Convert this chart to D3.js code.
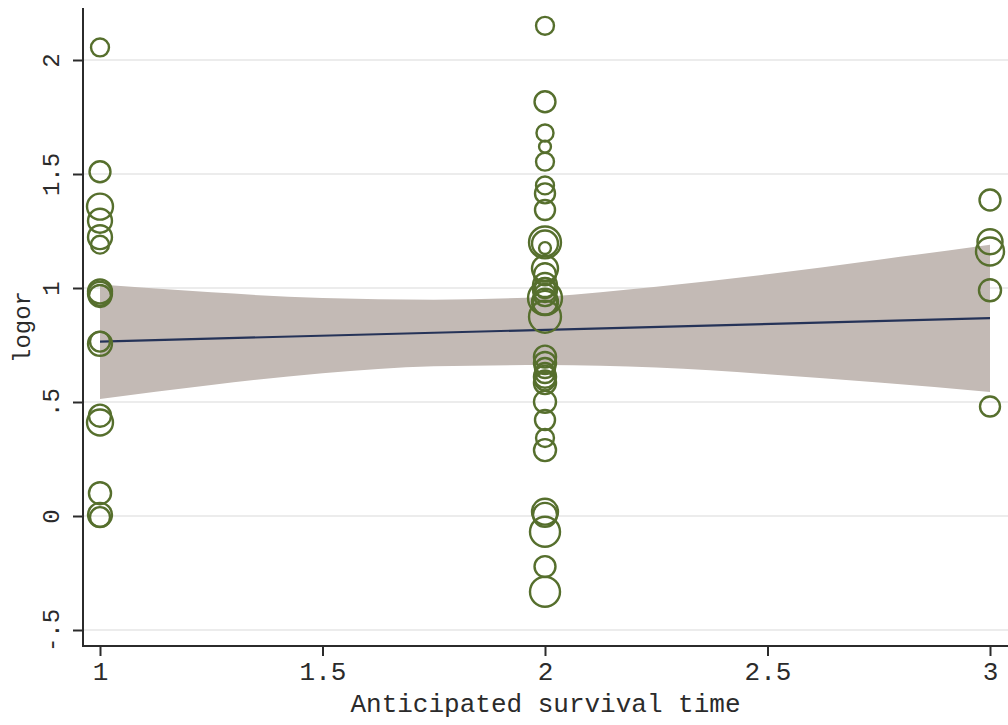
<!DOCTYPE html>
<html>
<head>
<meta charset="utf-8">
<script src="https://cdn.jsdelivr.net/npm/d3@7"></script>
<style>
  html, body { margin: 0; padding: 0; background: #ffffff; }
  svg { display: block; }
</style>
</head>
<body>
<svg id="chart" width="1008" height="725"></svg>
<script>
// Study-level log odds ratios by anticipated survival time (bubble size = weight)
const logorT1 = [2.055, 1.51, 1.357, 1.295, 1.223, 1.19, 0.985, 0.975, 0.965, 0.765, 0.755, 0.44, 0.41, 0.10, 0.005, -0.005];
const weightT1 = [41, 56, 86, 73, 73, 41, 73, 73, 62, 51, 73, 62, 86, 62, 73, 51];

const logorT2 = [
  2.15, 1.817, 1.68, 1.62, 1.554, 1.45, 1.415, 1.342, 1.20, 1.195, 1.175, 1.085, 1.06, 1.013, 1.0, 0.991, 0.969,
  0.956, 0.94, 0.935, 0.874, 0.699, 0.671, 0.649, 0.627, 0.611, 0.595, 0.583, 0.501, 0.421, 0.342, 0.289,
  0.019, 0.005, -0.069, -0.222, -0.332
];
const weightT2 = [
  41, 56, 37, 18, 41, 41, 51, 51, 130, 86, 18, 86, 62, 73, 51, 73, 62,
  147, 86, 73, 130, 62, 62, 51, 51, 62, 51, 62, 62, 51, 41, 62,
  86, 73, 115, 56, 115
];

const logorT3 = [1.386, 1.203, 1.16, 0.99, 0.48];
const weightT3 = [56, 80, 100, 62, 51];

// Fitted line and 95% confidence band read at evenly spaced survival times
const fitX = [1, 3];
const fitY = [0.765, 0.868];
const bandX = [1, 1.25, 1.5, 1.75, 2, 2.25, 2.5, 2.75, 3];
const bandUpper = [1.015, 0.981, 0.956, 0.949, 0.962, 1.005, 1.060, 1.124, 1.190];
const bandLower = [0.513, 0.575, 0.626, 0.657, 0.662, 0.651, 0.622, 0.585, 0.544];

const xTicks = [1, 1.5, 2, 2.5, 3];
const yTicks = [-0.5, 0, 0.5, 1, 1.5, 2];
const xTitle = "Anticipated survival time";
const yTitle = "logor";

const svg = d3.select("#chart");
const plotLeft = 83, plotRight = 1008, plotTop = 8, plotBottom = 646;

const x = d3.scaleLinear().domain([1, 3]).range([100, 990]);
const y = d3.scaleLinear().domain([0, 2]).range([516, 60]);
const r = d3.scaleSqrt().domain([0, 100]).range([0, 14]);

const fmt = v => (v === 0 ? "0" : String(v).replace(/^(-?)0\./, "$1."));
const mono = "'Liberation Mono', 'DejaVu Sans Mono', monospace";
const ink = "#2b2b2b";

// horizontal grid lines
svg.append("g")
  .selectAll("line")
  .data(yTicks)
  .join("line")
  .attr("x1", plotLeft + 1).attr("x2", plotRight)
  .attr("y1", d => y(d)).attr("y2", d => y(d))
  .attr("stroke", "#ececec")
  .attr("stroke-width", 2);

// confidence band
const band = bandX.map((bx, i) => ({ x: bx, lo: bandLower[i], hi: bandUpper[i] }));
svg.append("path")
  .datum(band)
  .attr("d", d3.area()
    .x(d => x(d.x))
    .y0(d => y(d.lo))
    .y1(d => y(d.hi))
    .curve(d3.curveMonotoneX))
  .attr("fill", "#c3bab5");

// fitted line
svg.append("path")
  .datum(fitX.map((fx, i) => [fx, fitY[i]]))
  .attr("d", d3.line().x(d => x(d[0])).y(d => y(d[1])))
  .attr("fill", "none")
  .attr("stroke", "#253358")
  .attr("stroke-width", 2.2);

// weighted study markers
const groups = [
  { t: 1, v: logorT1, w: weightT1 },
  { t: 2, v: logorT2, w: weightT2 },
  { t: 3, v: logorT3, w: weightT3 }
];
const pts = groups.flatMap(g => g.v.map((v, i) => ({ x: g.t, y: v, w: g.w[i] })));
svg.append("g")
  .selectAll("circle")
  .data(pts)
  .join("circle")
  .attr("cx", d => x(d.x))
  .attr("cy", d => y(d.y))
  .attr("r", d => r(d.w))
  .attr("fill", "none")
  .attr("stroke", "#566f2d")
  .attr("stroke-width", 2.4);

// y axis
const yAxis = svg.append("g")
  .attr("transform", `translate(${plotLeft},0)`)
  .call(d3.axisLeft(y).tickValues(yTicks).tickSize(10).tickPadding(0).tickFormat(fmt));
yAxis.select(".domain").remove();
yAxis.append("line")
  .attr("x1", 0).attr("x2", 0).attr("y1", plotTop).attr("y2", plotBottom + 1)
  .attr("stroke", ink).attr("stroke-width", 2);
yAxis.selectAll(".tick line").attr("stroke", ink).attr("stroke-width", 2);
yAxis.selectAll(".tick text")
  .attr("x", null).attr("dy", null)
  .attr("transform", "translate(-24,0) rotate(-90)")
  .attr("text-anchor", "middle")
  .attr("fill", ink)
  .style("font-family", mono)
  .style("font-size", "24px");

// x axis
const xAxis = svg.append("g")
  .attr("transform", `translate(0,${plotBottom})`)
  .call(d3.axisBottom(x).tickValues(xTicks).tickSize(10).tickPadding(6).tickFormat(d3.format("")));
xAxis.select(".domain").remove();
xAxis.append("line")
  .attr("x1", plotLeft).attr("x2", plotRight).attr("y1", 0).attr("y2", 0)
  .attr("stroke", ink).attr("stroke-width", 2);
xAxis.selectAll(".tick line").attr("stroke", ink).attr("stroke-width", 2);
xAxis.selectAll(".tick text")
  .attr("fill", ink)
  .style("font-family", mono)
  .style("font-size", "26px");

// axis titles
svg.append("text")
  .attr("x", (plotLeft + plotRight) / 2)
  .attr("y", 712)
  .attr("text-anchor", "middle")
  .attr("fill", ink)
  .style("font-family", mono)
  .style("font-size", "26px")
  .text(xTitle);

svg.append("text")
  .attr("transform", `translate(30,${(plotTop + plotBottom) / 2}) rotate(-90)`)
  .attr("text-anchor", "middle")
  .attr("fill", ink)
  .style("font-family", mono)
  .style("font-size", "24px")
  .text(yTitle);
</script>
</body>
</html>
